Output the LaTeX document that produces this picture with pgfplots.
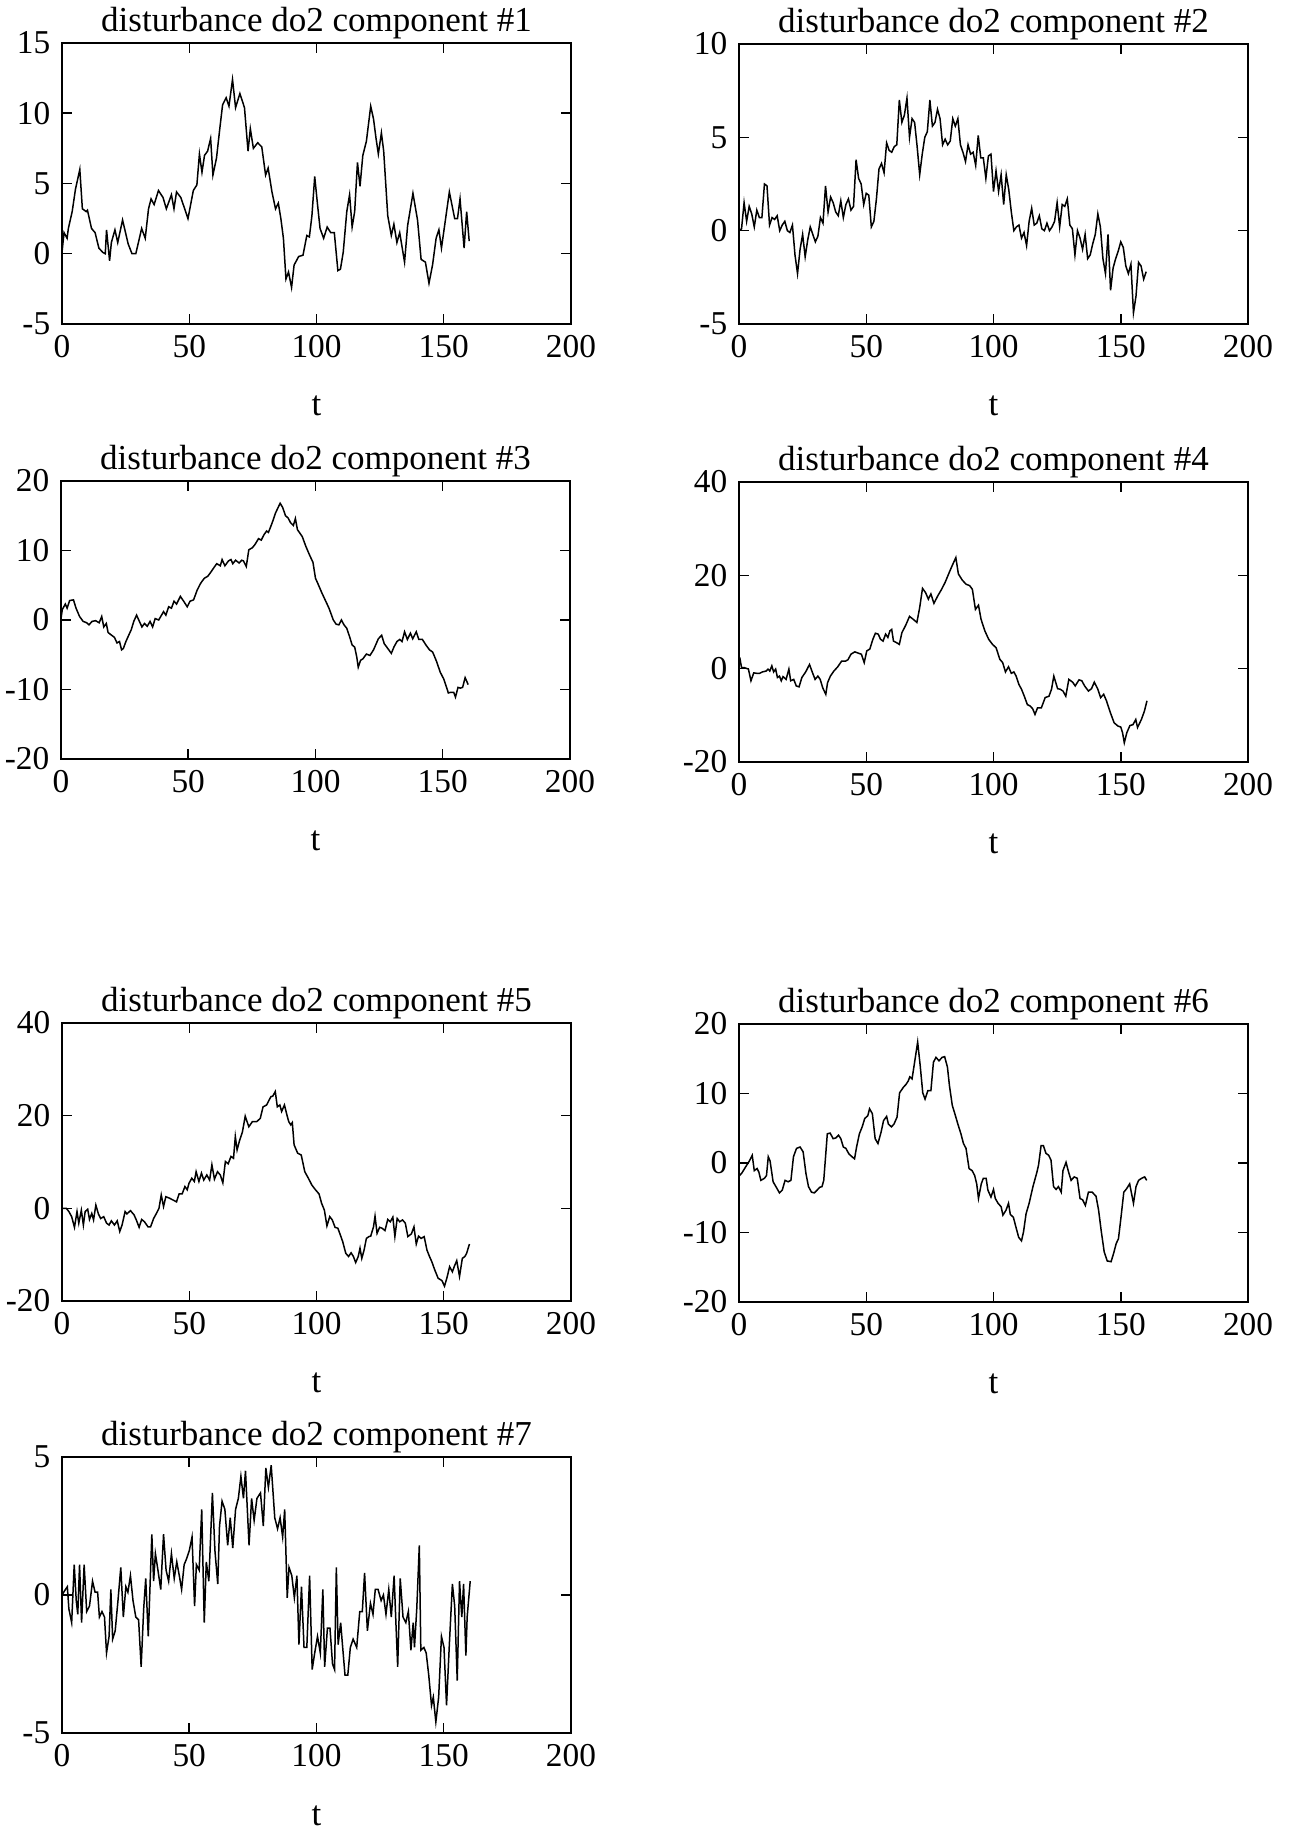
\documentclass[border=0pt]{standalone}
\usepackage{fontspec}
\setmainfont{Liberation Serif}
\usepackage{pgfplots}
\pgfplotsset{compat=1.18}
\pgfplotsset{
  dpanel/.style={
    scale only axis, width=152.7pt, anchor=south west,
    xmin=0, xmax=200, xtick={0,50,100,150,200},
    tick align=inside, major tick length=3pt,
    axis line style={line width=0.45pt},
    every tick/.style={line width=0.45pt, black},
    tick label style={font=\fontsize{10}{12}\selectfont},
    /pgf/number format/assume math mode=true,
    scaled ticks=false,
    every axis title shift=0pt,
    title style={font=\fontsize{10.5}{12}\selectfont, at={(0.5,1)}, anchor=base, yshift=3.3pt},
    xlabel={t},
    xlabel style={font=\fontsize{10.5}{12}\selectfont, at={(axis description cs:0.5,0)}, anchor=base, yshift=-27.6pt},
  },
  trace/.style={black, line width=0.45pt, no marks}
}
\begin{document}
\begin{tikzpicture}
\path[use as bounding box] (0,0) rectangle (387pt,549.6pt);

% component 1
\begin{axis}[dpanel, at={(18.6pt,452.4pt)}, height=84.3pt,
  ymin=-5, ymax=15, ytick={-5,0,5,10,15},
  title={disturbance do2 component \#1}]
\addplot[trace] coordinates {
(0,0.1) (0.8,1.5) (2,1.1) (2.5,1.8) (4,3.0) (5.3,4.6) (7,6.0) (8,3.2) (9.5,3.0) (10,3.1)
(11.6,1.8) (13,1.5) (14.5,0.4) (16,0.1) (17,0) (17.5,1.7) (18.7,-0.5) (19.4,0.8) (20.8,1.7)
(21.9,0.8) (23.8,2.4) (26,0.7) (27.5,0) (29,0) (31.3,1.8) (32.7,1.1) (34,3.2) (35,3.9)
(36.2,3.5) (37.9,4.5) (39.7,4.0) (41,3.2) (43,4.2) (44,3.2) (45,4.4) (46.7,4.0) (49.5,2.5)
(51.6,4.5) (53,4.9) (54,7.1) (55,5.8) (56,7.0) (57.2,7.3) (58.4,8.2) (59.3,5.6) (60.7,6.8)
(62,8.9) (63.1,10.6) (64.5,11.1) (65.6,10.5) (67,12.4) (68.2,10.4) (69.9,11.4) (71.7,10.4)
(73.1,7.3) (74,8.9) (75.2,7.5) (76.9,7.9) (78.5,7.6) (80,5.6) (81,6.1) (82.5,4.4) (83.9,3.2)
(85,3.6) (86,2.5) (87,1.1) (88,-1.8) (89,-1.3) (90.2,-2.4) (91.2,-0.8) (93,-0.2) (94.7,-0.1)
(96.2,1.3) (97.2,1.2) (98.2,2.7) (99.3,5.5) (100.4,3.5) (101.4,1.8) (102.8,1.1) (104.2,1.9)
(105.6,1.5) (107,1.5) (108.4,-1.2) (109.4,-1.1) (110.5,0.1) (111.9,3.0) (113,4.2) (114,1.9)
(115,3.0) (116.1,6.5) (117.1,4.8) (118.2,7.0) (119.6,8.0) (121.3,10.5) (122.4,9.6) (123.4,8.2)
(124.3,7.1) (125.5,8.6) (126.4,7.3) (128,2.7) (129.4,1.3) (130.4,2.1) (131.6,0.8) (132.7,1.5)
(134.6,-0.6) (135.8,2.0) (137.9,4.3) (139.7,2.4) (141.1,-0.4) (142.8,-0.6) (144.2,-2.1)
(145.6,-0.8) (147,1.1) (148.1,1.7) (149.1,0.4) (149.8,1.3) (152.2,4.4) (154.3,2.5) (155.4,2.5)
(156.4,3.9) (158,0.4) (159,3.0) (160,0.9)
};
\end{axis}

% component 2
\begin{axis}[dpanel, at={(221.7pt,452.4pt)}, height=84pt,
  ymin=-5, ymax=10, ytick={-5,0,5,10},
  title={disturbance do2 component \#2}]
\addplot[trace] coordinates {
(0,0.0) (1,0.1) (2,1.5) (3,0.5) (4,1.3) (5,0.9) (6,0.2) (7,1.1) (8,0.7) (9,0.7)
(10,2.5) (11,2.4) (12,0.3) (13,0.7) (14,0.6) (15,0.8) (16,0.0) (17,0.3) (18,0.5) (19,0.0)
(20,-0.1) (21,0.3) (22,-1.3) (23,-2.3) (24,-1.0) (25,-0.2) (26,-1.4) (27,-0.5) (28,0.2) (29,-0.2)
(30,-0.6) (31,-0.3) (32,0.7) (33,0.4) (34,2.4) (35,1.0) (36,1.8) (37,1.5) (38,1.0) (39,0.8)
(40,1.6) (41,0.7) (42,1.4) (43,1.7) (44,1.1) (45,1.3) (46,3.8) (47,2.8) (48,2.5) (49,1.4)
(50,2.0) (51,1.9) (52,0.2) (53,0.5) (54,1.7) (55,3.3) (56,3.6) (57,3.1) (58,4.7) (59,4.3)
(60,4.2) (61,4.5) (62,4.6) (63,7.0) (64,5.8) (65,6.2) (66,7.1) (67,5.0) (68,6.0) (69,5.8)
(70,4.5) (71,3.0) (72,4.1) (73,5.0) (74,5.3) (75,7.0) (76,5.6) (77,5.8) (78,6.5) (79,6.0)
(80,4.6) (81,4.9) (82,4.6) (83,4.8) (84,6.0) (85,5.6) (86,6.0) (87,4.6) (88,4.2) (89,3.7)
(90,4.6) (91,4.1) (92,4.2) (93,3.5) (94,5.1) (95,3.9) (96,3.9) (97,2.8) (98,4.0) (99,4.1)
(100,2.1) (101,3.2) (102,2.1) (103,3.0) (104,1.4) (105,3.0) (106,2.2) (107,1.0) (108,0.0) (109,0.2)
(110,0.3) (111,-0.4) (112,-0.1) (113,-0.8) (114,0.5) (115,1.2) (116,0.3) (117,0.4) (118,0.8) (119,0.1)
(120,0.0) (121,0.4) (122,0.0) (123,0.2) (124,0.5) (125,1.5) (126,0.2) (127,1.4) (128,1.3) (129,1.7)
(130,0.3) (131,0.1) (132,-1.3) (133,0.0) (134,-0.4) (135,-1.0) (136,-0.2) (137,-1.5) (138,-1.3) (139,-0.7)
(140,-0.2) (141,0.9) (142,0.2) (143,-1.5) (144,-2.3) (145,-0.2) (146,-3.2) (147,-2.0) (148,-1.5) (149,-1.1)
(150,-0.6) (151,-0.9) (152,-1.9) (153,-2.3) (154,-1.8) (155,-4.4) (156,-3.5) (157,-1.7) (158,-1.9) (159,-2.6)
(160,-2.2)
};
\end{axis}

% component 3
\begin{axis}[dpanel, at={(18.3pt,321.9pt)}, height=83.4pt,
  ymin=-20, ymax=20, ytick={-20,-10,0,10,20},
  title={disturbance do2 component \#3}]
\addplot[trace] coordinates {
(0,0.2) (0.5,1.5) (1.7,2.3) (2.4,1.7) (3.4,2.8) (4.9,2.9) (5.9,1.7) (7.3,0.5) (8.7,-0.2)
(10.1,-0.4) (11,-0.7) (12.2,-0.2) (13.6,-0.1) (15,-0.4) (16,0.5) (16.8,-1.0) (17.8,-0.5)
(18.5,-1.8) (19.9,-2.2) (21,-2.5) (22,-3.3) (23,-3.1) (23.8,-4.3) (24.5,-4.1) (25.5,-3.1)
(26.6,-2.2) (27.6,-1.4) (28.6,-0.2) (29.7,0.7) (30.8,-0.2) (31.8,-1.0) (32.8,-0.5) (33.9,-0.9)
(35,-0.2) (36,-1.0) (37,0.2) (38.4,0) (39.5,0.7) (40.3,1.2) (41.2,0.7) (42.3,1.9) (43.4,1.7)
(44.4,2.7) (45.4,2.3) (46.9,3.4) (48.2,2.7) (49.6,1.9) (50.7,2.7) (52.1,2.9) (53.5,4.3)
(54.9,5.3) (56.3,6.0) (57.7,6.3) (59.1,7.0) (60.2,7.6) (61.2,8.1) (62.6,7.8) (63.3,8.7)
(64.4,7.8) (65.8,8.5) (66.8,8.7) (67.5,8.1) (68.6,8.6) (70,8.2) (71,8.6) (71.7,8.5) (72.8,7.7)
(73.8,10.1) (75.2,10.4) (76.3,10.9) (77.6,11.7) (78.7,11.5) (79.8,12.3) (80.8,12.8) (81.5,12.6)
(82.9,13.9) (84.3,15.4) (86.1,16.8) (87.1,16.2) (88.2,15.0) (89.2,14.7) (90.2,14.0) (91.3,13.6)
(92.1,14.6) (92.9,13.0) (94.8,12.0) (96.2,10.6) (97.6,9.4) (99,8.3) (100,6.0) (101.1,5.1)
(102.5,3.9) (103.9,2.8) (105.3,1.7) (106,1.0) (107,0.0) (108.1,-0.6) (109.2,-0.7) (110.2,0.0)
(111.2,-0.7) (112.3,-1.2) (113.4,-2.4) (114.4,-3.6) (115.4,-3.9) (116.2,-5.3) (116.8,-6.8)
(117.7,-5.8) (118.6,-5.6) (120,-4.9) (121.4,-5.1) (122.8,-4.3) (124.7,-2.7) (126,-2.2)
(127,-3.4) (128.4,-4.1) (129.8,-4.8) (130.8,-3.9) (132,-3.1) (133.1,-2.8) (134,-3.1) (135,-1.7)
(136.1,-2.8) (137.3,-1.9) (138.2,-2.7) (139.6,-1.7) (140.6,-2.8) (142,-2.8) (143.4,-3.6)
(144.8,-4.3) (146,-4.6) (146.6,-5.1) (147.6,-6.0) (149,-7.5) (150.4,-8.5) (151.5,-9.7)
(152.2,-10.5) (153.2,-10.4) (154.3,-10.4) (155,-11.1) (156,-9.7) (156.9,-9.8) (157.8,-9.7)
(158.8,-8.3) (160,-9.3)
};
\end{axis}

% component 4
\begin{axis}[dpanel, at={(221.7pt,321pt)}, height=84pt,
  ymin=-20, ymax=40, ytick={-20,0,20,40},
  title={disturbance do2 component \#4}]
\addplot[trace] coordinates {
(0.3,2.4) (1,0.2) (2.2,0.2) (3.7,-0.1) (4.7,-2.6) (5.8,-0.9) (7,-1.0) (8.1,-1.0) (9.2,-0.7)
(10.7,-0.5) (11.4,-0.1) (12.1,-0.5) (12.9,0.6) (13.6,-0.7) (14.4,-0.1) (15.1,-1.9) (15.9,-1.6)
(16.6,-2.6) (17.3,-1.7) (18.5,-2.3) (19.6,-0.1) (20.3,-2.6) (21.5,-2.3) (22.5,-3.7) (23.6,-3.9)
(24.7,-1.9) (26.2,-0.7) (27.7,0.9) (28.9,-0.9) (29.9,-2.3) (31,-1.6) (31.9,-2.3) (32.9,-4.1)
(34.1,-5.5) (34.8,-3.0) (35.9,-1.6) (37.3,-0.5) (38.8,0.4) (40.3,1.6) (41.8,1.6) (42.8,1.9)
(44,3.1) (45.5,3.6) (47,3.3) (48.1,3.1) (49.2,1.3) (50.2,3.8) (51.4,4.2) (52.6,6.3) (53.6,7.6)
(54.7,7.4) (55.6,6.3) (56.6,5.9) (57.6,7.4) (58.5,6.7) (59.3,8.1) (60,8.4) (60.7,5.9) (61.8,5.6)
(63,5.2) (64,7.7) (65.5,9.3) (67,11.2) (68.4,10.6) (69.9,9.9) (71,13.1) (72.1,17.2) (73.3,16.3)
(74.4,14.9) (75.4,16.0) (76.6,14.0) (78.1,15.6) (79.6,17.0) (81,18.5) (82.6,20.6) (83.7,22.0)
(85.2,23.8) (86.2,20.3) (87.7,19.0) (89.2,18.1) (90.6,17.8) (91.7,17.0) (92.9,12.7) (94.1,13.6)
(95.1,10.6) (96.6,8.1) (98.1,6.3) (99.6,5.2) (101,4.5) (102.5,2.0) (103.6,1.3) (104.7,-0.7)
(105.9,0.4) (107,-1.0) (108,-0.7) (108.9,-1.6) (110,-3.4) (111,-4.4) (112.1,-5.9) (113.3,-7.7)
(114.4,-8.0) (115.4,-8.6) (116.3,-9.8) (117.3,-8.4) (118.8,-8.4) (120.3,-6.2) (121.8,-5.9)
(122.8,-4.4) (123.7,-1.6) (125.2,-4.3) (126.2,-4.4) (127.3,-4.8) (128.4,-5.9) (129.6,-2.3)
(131.1,-2.9) (132.1,-3.7) (133.6,-2.4) (134.7,-2.6) (135.8,-3.7) (137.3,-4.8) (138.5,-4.3)
(139.6,-2.9) (141,-4.4) (142.1,-6.2) (143.3,-5.5) (144.4,-6.9) (145.9,-9.4) (147.4,-11.6)
(148.9,-12.3) (150,-12.5) (150.7,-13.7) (151.4,-15.9) (152.4,-13.7) (153.6,-12.2) (154.8,-12.0)
(155.9,-10.9) (156.6,-12.6) (158.1,-10.9) (159.3,-9.1) (160.3,-6.9)
};
\end{axis}

% component 5
\begin{axis}[dpanel, at={(18.6pt,159.3pt)}, height=83.4pt,
  ymin=-20, ymax=40, ytick={-20,0,20,40},
  title={disturbance do2 component \#5}]
\addplot[trace] coordinates {
(0,0) (1.7,0) (2.7,-0.7) (3.8,-1.8) (4.9,-4.1) (5.9,-0.7) (6.6,-3.2) (7.6,-0.4) (8.4,-3.6)
(9.1,-0.7) (10.1,-0.2) (10.8,-2.4) (11.7,-1.1) (12.4,-2.5) (13.3,0.7) (14.3,-1.2) (15.2,-2.2)
(16.4,-1.8) (17.5,-3.2) (18.5,-3.6) (19.4,-2.7) (20.6,-3.6) (21.7,-2.7) (22.7,-5.0) (23.6,-3.6)
(24.8,-0.7) (25.5,-1.2) (26.9,-0.5) (28.3,-1.4) (29.2,-2.5) (30.3,-4.1) (31.3,-2.4) (32.4,-2.9)
(33.8,-4.0) (34.8,-4.0) (36,-2.2) (37.1,-1.1) (38.1,0) (39,2.9) (39.9,0.4) (40.8,2.5) (42.2,2.2)
(43.6,1.8) (45,1.4) (46,3.1) (47.2,3.1) (48.3,4.7) (49.2,4.0) (49.9,5.4) (51,6.5) (52,5.8)
(52.7,7.9) (53.8,5.8) (54.8,7.6) (55.7,6.1) (56.9,7.2) (58,6.1) (58.9,9.4) (59.9,6.3) (61.1,7.9)
(62.2,7.2) (63.2,5.5) (64.2,10.1) (65.3,9.6) (66.4,11.2) (67.4,10.8) (68.1,15.5) (68.8,12.6)
(69.8,14.7) (70.9,16.5) (72,19.9) (73.4,17.6) (74.8,18.7) (76.5,18.7) (77.9,19.4) (79,21.9)
(80.4,22.3) (81.4,23.4) (82.1,24.1) (82.8,24.2) (83.8,25.2) (84.6,21.9) (85.6,22.3) (86.3,20.9)
(87.4,22.3) (88.4,20.1) (89.1,18.7) (89.9,18.0) (90.5,18.5) (91.2,13.7) (92.6,11.9) (94,11.5)
(95.4,7.9) (96.8,6.5) (98.2,5.0) (99.6,4.0) (101,3.1) (102,1.1) (103.1,-0.4) (104.1,-3.8)
(105.2,-1.8) (106.2,-2.5) (107.3,-4.1) (108.4,-4.3) (109.4,-5.8) (110.3,-7.2) (111.5,-9.7)
(112.6,-10.4) (113.6,-9.6) (114.5,-10.4) (115.4,-11.7) (116.4,-10.4) (117.1,-8.6) (117.8,-10.8)
(118.7,-9.0) (119.6,-6.5) (120.6,-6.1) (121.3,-6.0) (122.4,-4.0) (123,-1.7) (123.8,-5.4)
(124.8,-4.1) (125.8,-4.3) (126.9,-4.8) (128,-2.4) (129,-2.9) (130,-1.9) (130.8,-6.1) (131.7,-2.2)
(132.7,-2.9) (133.8,-2.5) (134.9,-3.2) (135.9,-6.1) (137.3,-5.5) (138.3,-4.0) (139.2,-7.7)
(140.1,-6.0) (141.1,-6.5) (142.3,-6.1) (143.4,-9.0) (144.4,-10.4) (145.3,-11.5) (146.4,-13.2)
(147.8,-15.1) (149.3,-15.6) (150.3,-16.8) (151.3,-14.9) (152.3,-12.6) (153.4,-13.7) (154.1,-12.6)
(155.1,-11.3) (156.2,-14.7) (157.3,-10.8) (158.3,-10.4) (159,-9.7) (160.1,-7.7)
};
\end{axis}

% component 6
\begin{axis}[dpanel, at={(221.7pt,159pt)}, height=83.4pt,
  ymin=-20, ymax=20, ytick={-20,-10,0,10,20},
  title={disturbance do2 component \#6}]
\addplot[trace] coordinates {
(0,-1.9) (1.2,-1.4) (2.7,-0.5) (4.1,0.3) (5.2,1.1) (6,-1.1) (7.1,-0.8) (7.8,-1.3) (8.6,-2.5)
(10,-2.2) (10.8,-1.8) (11.5,0.9) (12.2,0.3) (13.4,-2.7) (14.5,-3.4) (15.9,-4.3) (17,-3.9)
(18.1,-2.5) (19.3,-2.7) (20.4,-2.5) (21.4,0.9) (22.6,2.1) (24,2.3) (25.2,1.6) (26.3,-1.5)
(27.3,-3.4) (28.5,-4.2) (29.6,-4.3) (30.7,-3.9) (31.7,-3.5) (32.6,-3.4) (33.3,-2.5) (34.7,4.2)
(35.8,4.3) (37,3.5) (38,3.6) (39.1,4.0) (40,3.5) (41,2.3) (42,2.1) (43.2,1.3) (44.4,0.9)
(45.4,0.6) (46.2,2.3) (47.3,4.2) (48.4,5.2) (49.4,6.4) (50.6,6.8) (51.3,7.8) (52.4,7.1)
(53.5,3.5) (54.6,2.8) (55.8,4.4) (56.8,6.1) (58,6.7) (58.7,5.6) (59.9,5.2) (60.9,5.6) (62.1,6.6)
(63.1,10.1) (64.6,10.9) (65.6,11.3) (66.5,11.8) (67.1,12.4) (68,12.1) (69,14.5) (70.2,17.4)
(71.2,14.0) (72.2,10.1) (73.1,9.2) (74.2,10.4) (75.4,10.4) (76.4,14.5) (77.4,15.2) (78.6,14.7)
(79.8,15.2) (80.8,15.3) (81.9,13.8) (82.7,11.1) (83.8,8.3) (84.8,7.1) (86,5.6) (87.2,4.2)
(88.2,2.8) (89.2,2.1) (90.4,-0.8) (91.6,-1.1) (92.6,-1.8) (93.4,-3.0) (94.1,-5.1) (95.2,-3.0)
(96,-2.2) (97.1,-2.2) (97.8,-3.9) (99,-4.9) (100,-3.8) (100.7,-5.1) (101.8,-5.8) (103,-6.3)
(103.7,-7.5) (104.9,-6.8) (105.9,-5.8) (106.6,-7.4) (107.8,-7.8) (108.8,-9.2) (109.9,-10.7)
(111,-11.2) (111.8,-9.9) (112.8,-7.3) (114,-5.8) (115.5,-3.4) (117,-1.4) (117.7,-0.3) (118.7,2.5)
(119.6,2.5) (120.6,1.4) (121.7,1.1) (122.6,0.4) (123.6,-3.4) (124.6,-3.8) (125.5,-3.4)
(126.6,-4.2) (127.3,-1.1) (128.5,0.1) (129.5,-1.3) (130.5,-2.5) (131.7,-2.0) (132.9,-2.2)
(134,-5.1) (135,-5.3) (136.1,-6.1) (137.3,-4.2) (138.8,-4.2) (140.3,-4.8) (141.3,-6.8)
(142.3,-9.7) (143.5,-12.8) (144.7,-14.1) (146.2,-14.2) (147.2,-13.0) (148.2,-11.6) (149.1,-10.9)
(150.1,-7.8) (151.2,-4.2) (152.3,-3.7) (153.5,-3.0) (155,-5.8) (156,-3.4) (157,-2.5) (158.2,-2.2)
(159.4,-2.0) (160.2,-2.5)
};
\end{axis}

% component 7
\begin{axis}[dpanel, at={(18.6pt,29.7pt)}, height=82.8pt,
  ymin=-5, ymax=5, ytick={-5,0,5},
  title={disturbance do2 component \#7}]
\addplot[trace] coordinates {
(0,0) (1,0.15) (2.1,0.3) (2.7,-0.5) (3.8,-1.0) (4.8,1.1) (5.6,-0.2) (6.2,-0.7) (6.9,1.1)
(7.7,-1.0) (8.7,1.1) (9.7,-0.6) (10.8,-0.4) (12,0.5) (13,0.1) (14,0.1) (14.7,-0.8) (15.7,-0.6)
(16.7,-0.8) (17.5,-2.1) (18.5,-1.5) (19.2,0.2) (19.9,-1.6) (20.9,-1.3) (22,-0.2) (23.1,1.0)
(24.1,-0.8) (25.1,0.3) (25.9,0.1) (26.9,0.7) (27.9,-0.2) (29,-0.8) (30.1,-0.9) (31.1,-2.6)
(32.1,-0.5) (32.9,0.6) (33.9,-1.5) (35.3,2.2) (36,0.5) (36.7,1.5) (37.7,0.9) (38.8,0.2)
(39.9,2.2) (40.9,0.9) (41.9,0.5) (43,1.5) (44.1,0.6) (45.1,1.2) (46.1,0.7) (47,0.2) (48,1.1)
(48.9,1.3) (50,1.6) (51.1,2.1) (52.1,-0.4) (52.8,1.1) (53.9,0.9) (54.9,3.1) (55.9,-1.0)
(56.7,1.2) (57.7,0.5) (59.1,3.7) (60.1,1.6) (61.2,0.4) (61.9,2.5) (62.9,3.4) (64,3.1) (65.1,1.8)
(66.1,2.8) (67.1,1.7) (68.2,3.1) (69.3,3.5) (70.3,4.3) (71.3,3.5) (72.1,4.5) (73.5,1.8)
(74.5,3.5) (75.5,2.7) (76.6,3.5) (78,3.7) (79.1,2.5) (80.1,4.6) (81.1,3.9) (82.2,4.7) (83.6,2.8)
(84.7,2.4) (85.7,2.8) (86.7,2.1) (87.5,3.1) (88.5,-0.1) (89.2,1.0) (90.3,0.7) (91.3,-0.1)
(92.3,0.7) (93.1,-1.8) (94.1,0.3) (95.1,-1.9) (96.2,-1.9) (97.3,0.7) (98.3,-2.7) (99.3,-2.1)
(100.4,-1.5) (101.5,-2.1) (102.5,0.2) (103.2,-2.6) (104.3,-1.2) (105.3,-1.2) (106.3,-2.5)
(107.1,-2.7) (107.8,1.0) (108.5,-1.8) (109.5,-1.0) (110.2,-1.8) (111.2,-2.9) (112.3,-2.9)
(113.3,-1.9) (114.4,-1.6) (115.8,-1.9) (117,-0.6) (118,-0.6) (118.9,0.8) (120,-1.3) (121.2,-0.3)
(122.2,-0.7) (123.1,0.2) (124.2,0.2) (125.4,-0.2) (126.3,0.0) (127.3,-0.7) (128.4,0.2)
(129.4,-0.8) (130.5,0.7) (131.2,-1.0) (131.9,-2.6) (132.9,0.6) (134,-0.8) (135.1,-1.0)
(136.1,-0.6) (137.1,-2.0) (138,-1.0) (138.5,-1.9) (139.4,-0.5) (140.4,1.8) (141,-2.0)
(142.2,-1.9) (143.1,-2.1) (144.1,-2.9) (145.2,-4.0) (145.9,-3.7) (146.9,-4.6) (148,-3.7)
(149.1,-1.5) (150.1,-1.9) (151.1,-4.0) (152.2,-1.8) (153.4,0.4) (154.3,-0.4) (155.3,-3.1)
(156.2,0.5) (157.1,-0.8) (157.8,0.4) (158.7,-2.2) (159.2,-0.8) (160.4,0.5)
};
\end{axis}
\end{tikzpicture}
\end{document}
